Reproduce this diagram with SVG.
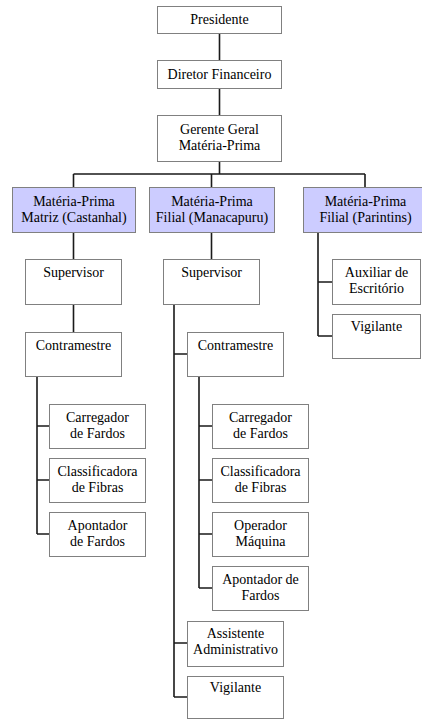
<svg xmlns="http://www.w3.org/2000/svg" width="422" height="720" viewBox="0 0 422 720">
<style>
.box{fill:#ffffff;stroke:#808080;stroke-width:1}
.lav{fill:#ccccff}
.t{font-family:'Liberation Serif','DejaVu Serif',serif;font-size:14px;fill:#000;text-anchor:middle}
#connectors path{stroke:#1a1a1a;stroke-width:1.6;fill:none}
</style>
<rect width="422" height="720" fill="#ffffff"/>
<g id="connectors">
<path d="M219.5,33V60M219.5,88V115M219.5,161V174"/>
<path d="M73.5,174H365M73.5,174V187M211.5,174V187M365,174V187"/>
<path d="M73.5,232V259M73.5,304V332"/>
<path d="M37,376V534M37,426H49M37,480H49M37,534H49"/>
<path d="M211.5,232V259"/>
<path d="M174,304V697M174,354H187M174,643H187M174,697H187"/>
<path d="M199,376V588M199,426H212M199,480H212M199,534H212M199,588H212"/>
<path d="M318,232V336M318,282H332M318,336H332"/>
</g>
<g class="t">
<g id="presidente"><rect class="box" x="157.5" y="6.5" width="124" height="27"/><text x="219.5" y="24">Presidente</text></g>
<g id="diretor"><rect class="box" x="157.5" y="60.5" width="124" height="28"/><text x="219.5" y="79">Diretor Financeiro</text></g>
<g id="gerente"><rect class="box" x="157.5" y="115.5" width="124" height="46"/><text x="219.5" y="134">Gerente Geral</text><text x="219.5" y="150">Matéria-Prima</text></g>
<g id="matriz"><rect class="box lav" x="12.5" y="187.5" width="123" height="45"/><text x="74" y="206">Matéria-Prima</text><text x="74" y="222">Matriz (Castanhal)</text></g>
<g id="manacapuru"><rect class="box lav" x="149.5" y="187.5" width="125" height="45"/><text x="212" y="206">Matéria-Prima</text><text x="212" y="222">Filial (Manacapuru)</text></g>
<g id="parintins"><rect class="box lav" x="303.5" y="187.5" width="124" height="45"/><text x="365.5" y="206">Matéria-Prima</text><text x="365.5" y="222">Filial (Parintins)</text></g>
<g id="supervisor1"><rect class="box" x="25.5" y="259.5" width="96" height="45"/><text x="73.5" y="277">Supervisor</text></g>
<g id="supervisor2"><rect class="box" x="163.5" y="259.5" width="96" height="45"/><text x="211.5" y="277">Supervisor</text></g>
<g id="auxiliar"><rect class="box" x="332.5" y="259.5" width="88" height="45"/><text x="376.5" y="277">Auxiliar de</text><text x="376.5" y="293">Escritório</text></g>
<g id="vigilante3"><rect class="box" x="332.5" y="314.5" width="88" height="44"/><text x="376.5" y="331">Vigilante</text></g>
<g id="contramestre1"><rect class="box" x="25.5" y="332.5" width="96" height="44"/><text x="73.5" y="350">Contramestre</text></g>
<g id="contramestre2"><rect class="box" x="187.5" y="332.5" width="96" height="44"/><text x="235.5" y="350">Contramestre</text></g>
<g id="carregador1"><rect class="box" x="49.5" y="404.5" width="96" height="44"/><text x="97.5" y="422">Carregador</text><text x="97.5" y="438">de Fardos</text></g>
<g id="classificadora1"><rect class="box" x="49.5" y="458.5" width="96" height="44"/><text x="97.5" y="476">Classificadora</text><text x="97.5" y="492">de Fibras</text></g>
<g id="apontador1"><rect class="box" x="49.5" y="512.5" width="96" height="44"/><text x="97.5" y="530">Apontador</text><text x="97.5" y="546">de Fardos</text></g>
<g id="carregador2"><rect class="box" x="212.5" y="404.5" width="96" height="44"/><text x="260.5" y="422">Carregador</text><text x="260.5" y="438">de Fardos</text></g>
<g id="classificadora2"><rect class="box" x="212.5" y="458.5" width="96" height="44"/><text x="260.5" y="476">Classificadora</text><text x="260.5" y="492">de Fibras</text></g>
<g id="operador2"><rect class="box" x="212.5" y="512.5" width="96" height="44"/><text x="260.5" y="530">Operador</text><text x="260.5" y="546">Máquina</text></g>
<g id="apontador2"><rect class="box" x="212.5" y="566.5" width="96" height="44"/><text x="260.5" y="584">Apontador de</text><text x="260.5" y="600">Fardos</text></g>
<g id="assistente"><rect class="box" x="187.5" y="621.5" width="96" height="45"/><text x="235.5" y="638">Assistente</text><text x="235.5" y="654">Administrativo</text></g>
<g id="vigilante2"><rect class="box" x="187.5" y="676.5" width="96" height="42"/><text x="235.5" y="692">Vigilante</text></g>
</g>
</svg>
